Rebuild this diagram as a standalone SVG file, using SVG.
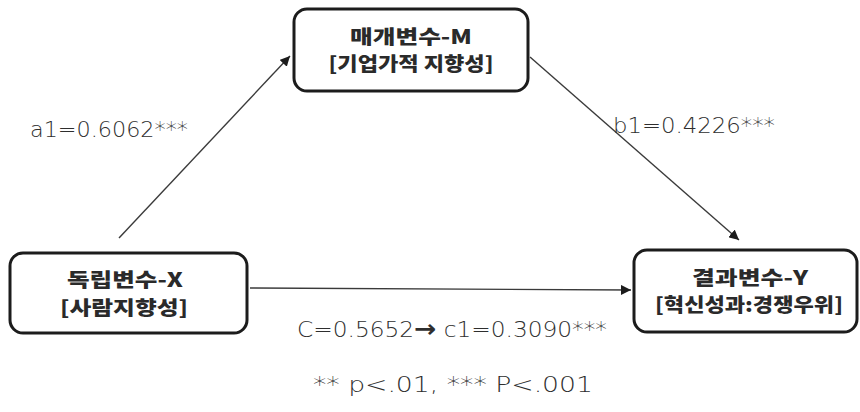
<svg xmlns="http://www.w3.org/2000/svg" width="860" height="412" viewBox="0 0 860 412">
<defs>
<style>
.box{fill:#fff;stroke:#1c1c1c;stroke-width:3}
.nt{font-family:"Noto Sans CJK KR","DejaVu Sans",sans-serif;font-weight:900;font-size:19.5px;fill:#2a2a2a;text-anchor:middle}
.lb{font-family:"DejaVu Sans","Liberation Sans",sans-serif;font-weight:200;font-size:21px;fill:#2e2e2e}
.cn{stroke:#3a3a3a;stroke-width:1.4;fill:none}
</style>
<marker id="ah" viewBox="0 0 10 10" refX="10" refY="5" markerWidth="10" markerHeight="10" markerUnits="userSpaceOnUse" orient="auto">
<path d="M0,0 L10,5 L0,10 z" fill="#1c1c1c"/>
</marker>
</defs>
<rect width="860" height="412" fill="#fff"/>
<g id="connectors">
<line class="cn" x1="119" y1="238" x2="290" y2="56" marker-end="url(#ah)"/>
<line class="cn" x1="530" y1="57" x2="739" y2="240" marker-end="url(#ah)"/>
<line class="cn" x1="250" y1="288" x2="631" y2="290" marker-end="url(#ah)"/>
</g>
<g id="node-m">
<rect class="box" x="294" y="9" width="234" height="82" rx="13"/>
<text class="nt" x="411" y="44" textLength="122" lengthAdjust="spacingAndGlyphs">매개변수-M</text>
<text class="nt" x="411" y="71" textLength="165" lengthAdjust="spacingAndGlyphs">[기업가적 지향성]</text>
</g>
<g id="node-x">
<rect class="box" x="10" y="253" width="237" height="80" rx="13"/>
<text class="nt" x="125" y="287" textLength="116" lengthAdjust="spacingAndGlyphs">독립변수-X</text>
<text class="nt" x="124" y="315" textLength="128" lengthAdjust="spacingAndGlyphs">[사람지향성]</text>
</g>
<g id="node-y">
<rect class="box" x="634" y="250" width="223" height="82" rx="13"/>
<text class="nt" x="750" y="285" textLength="116" lengthAdjust="spacingAndGlyphs">결과변수-Y</text>
<text class="nt" x="749" y="312" textLength="188" lengthAdjust="spacingAndGlyphs">[혁신성과:경쟁우위]</text>
</g>
<g id="labels">
<text class="lb" x="30" y="137" textLength="158" lengthAdjust="spacingAndGlyphs">a1=0.6062***</text>
<text class="lb" x="613" y="133" textLength="162" lengthAdjust="spacingAndGlyphs">b1=0.4226***</text>
<text class="lb" x="297" y="337" textLength="310" lengthAdjust="spacingAndGlyphs">C=0.5652<tspan font-weight="bold" font-size="24">→</tspan> c1=0.3090***</text>
<text class="lb" x="313" y="392" textLength="280" lengthAdjust="spacingAndGlyphs">** p&lt;.01,  *** P&lt;.001</text>
</g>
</svg>
